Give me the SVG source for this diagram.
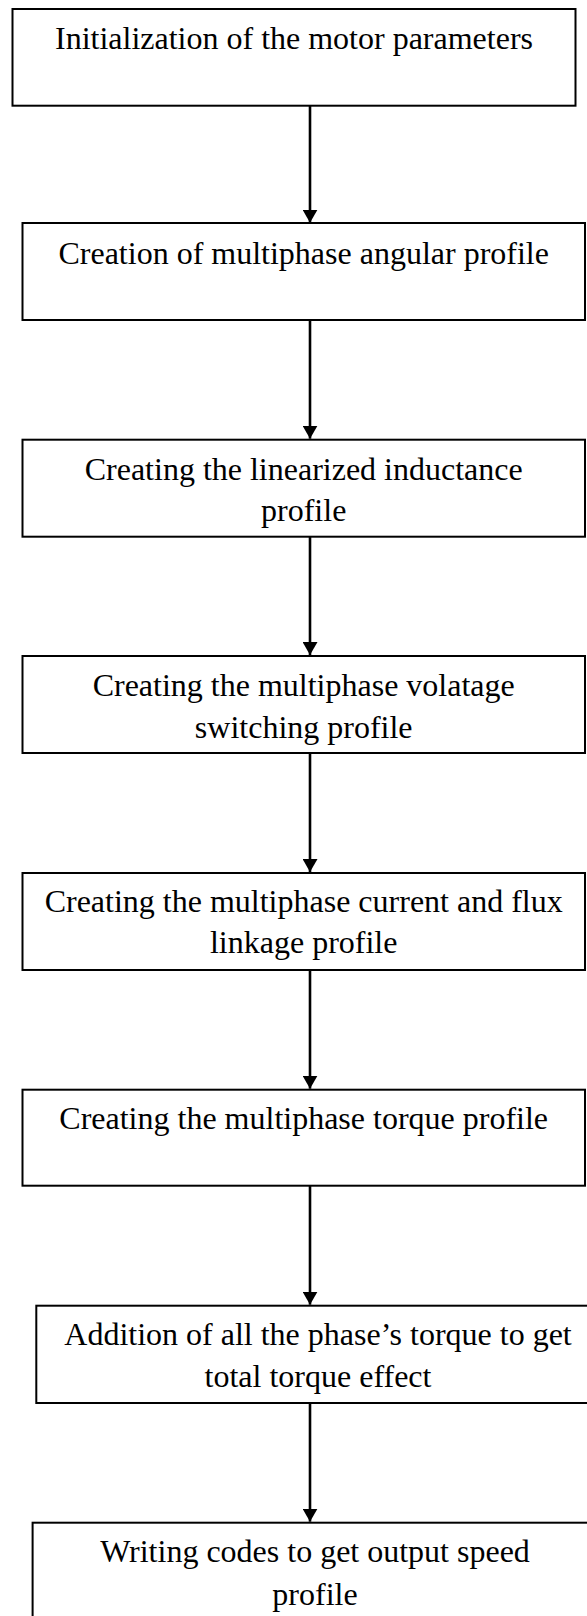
<svg xmlns="http://www.w3.org/2000/svg" width="587" height="1616" viewBox="0 0 587 1616">
  <style>
    .box { fill: #ffffff; stroke: #000000; stroke-width: 2; }
    .lbl { font-family: "Liberation Serif", "Times New Roman", serif; font-size: 32px; fill: #000000; text-anchor: middle; }
    .flow { stroke: #000000; stroke-width: 2.6; fill: none; marker-end: url(#head); }
  </style>
  <defs>
    <marker id="head" viewBox="0 0 13 15" refX="13" refY="7.5" markerWidth="13" markerHeight="15" markerUnits="userSpaceOnUse" orient="auto">
      <path d="M0,0 L13,7.5 L0,15 Z" fill="#000000"/>
    </marker>
  </defs>
  <rect width="587" height="1616" fill="#ffffff"/>

  <!-- process steps -->
  <g id="step-init">
    <rect class="box" x="12.5" y="9" width="563" height="96.7"/>
    <text class="lbl" x="294" y="49">Initialization of the motor parameters</text>
  </g>
  <g id="step-angular">
    <rect class="box" x="22.5" y="223" width="562.5" height="97"/>
    <text class="lbl" x="303.7" y="264.3">Creation of multiphase angular profile</text>
  </g>
  <g id="step-inductance">
    <rect class="box" x="22.5" y="439.7" width="562.5" height="97"/>
    <text class="lbl" x="303.7" y="480">Creating the linearized inductance</text>
    <text class="lbl" x="303.7" y="520.7">profile</text>
  </g>
  <g id="step-voltage">
    <rect class="box" x="22.5" y="656" width="562.5" height="97"/>
    <text class="lbl" x="303.7" y="696">Creating the multiphase volatage</text>
    <text class="lbl" x="303.7" y="737.7">switching profile</text>
  </g>
  <g id="step-current">
    <rect class="box" x="22.5" y="873" width="562.5" height="97"/>
    <text class="lbl" x="303.7" y="912.3">Creating the multiphase current and flux</text>
    <text class="lbl" x="303.7" y="953.3">linkage profile</text>
  </g>
  <g id="step-torque">
    <rect class="box" x="22.5" y="1089.7" width="562.5" height="96"/>
    <text class="lbl" x="303.7" y="1129.3">Creating the multiphase torque profile</text>
  </g>
  <g id="step-sum">
    <rect class="box" x="36.3" y="1305.7" width="600" height="97.3"/>
    <text class="lbl" x="318" y="1345">Addition of all the phase’s torque to get</text>
    <text class="lbl" x="318" y="1386.7">total torque effect</text>
  </g>
  <g id="step-speed">
    <rect class="box" x="32.6" y="1522.7" width="600" height="200"/>
    <text class="lbl" x="315" y="1561.7">Writing codes to get output speed</text>
    <text class="lbl" x="315" y="1605">profile</text>
  </g>

  <!-- connectors -->
  <g id="connectors">
    <line class="flow" x1="310" y1="105.7" x2="310" y2="222.7"/>
    <line class="flow" x1="310" y1="320" x2="310" y2="438.7"/>
    <line class="flow" x1="310" y1="536.7" x2="310" y2="655"/>
    <line class="flow" x1="310" y1="753" x2="310" y2="872"/>
    <line class="flow" x1="310" y1="970" x2="310" y2="1088.7"/>
    <line class="flow" x1="310" y1="1185.7" x2="310" y2="1304.7"/>
    <line class="flow" x1="310" y1="1403" x2="310" y2="1521.7"/>
  </g>
</svg>
